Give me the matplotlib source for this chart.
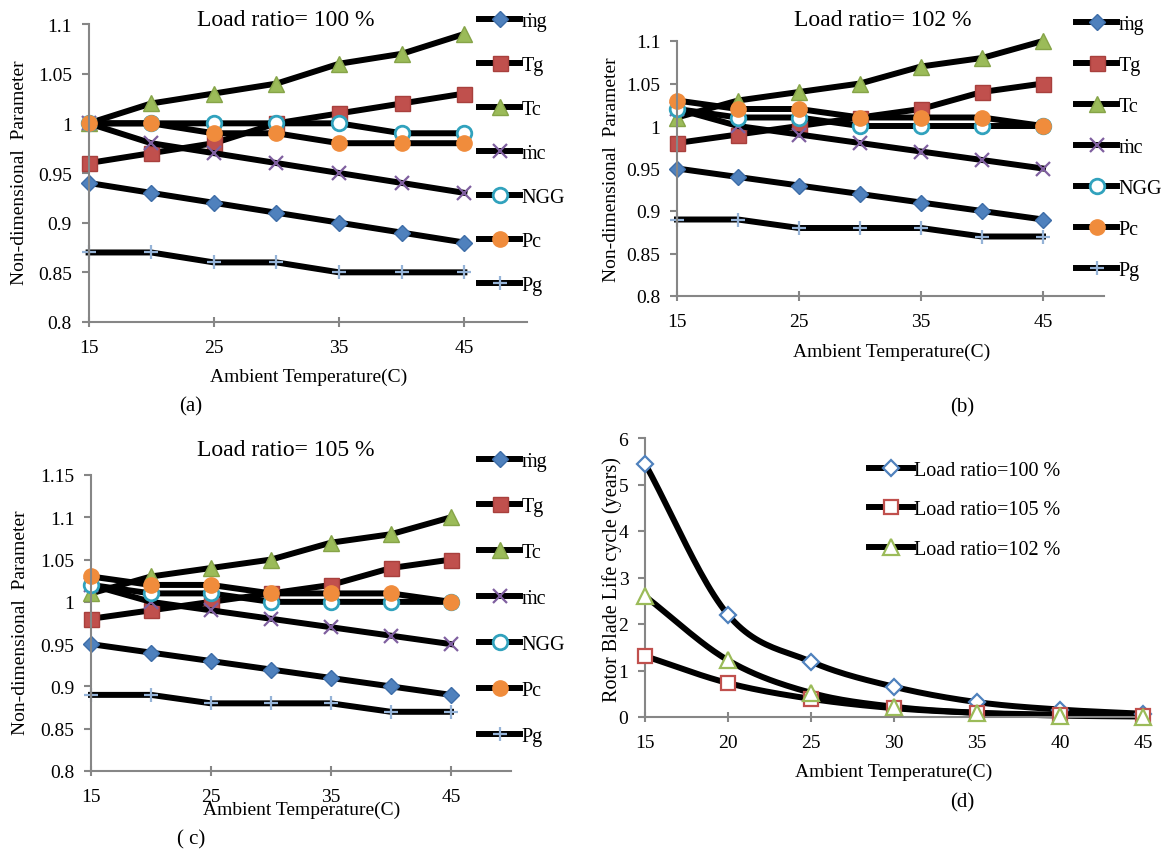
import numpy as np
import matplotlib
matplotlib.use('Agg')
import matplotlib.pyplot as plt

plt.rcParams['font.family'] = ['Liberation Serif', 'DejaVu Serif']

W, H = 1171, 853

# ---------------- data ----------------
temps = [15, 20, 25, 30, 35, 40, 45]
series_names = ['ṁg', 'Tg', 'Tc', 'ṁc', 'NGG', 'Pc', 'Pg']

# (a) load ratio 100 %
a_mg = [0.94, 0.93, 0.92, 0.91, 0.90, 0.89, 0.88]
a_Tg = [0.96, 0.97, 0.98, 1.00, 1.01, 1.02, 1.03]
a_Tc = [1.00, 1.02, 1.03, 1.04, 1.06, 1.07, 1.09]
a_mc = [1.00, 0.98, 0.97, 0.96, 0.95, 0.94, 0.93]
a_NGG = [1.00, 1.00, 1.00, 1.00, 1.00, 0.99, 0.99]
a_Pc = [1.00, 1.00, 0.99, 0.99, 0.98, 0.98, 0.98]
a_Pg = [0.87, 0.87, 0.86, 0.86, 0.85, 0.85, 0.85]

# (b) load ratio 102 %
b_mg = [0.95, 0.94, 0.93, 0.92, 0.91, 0.90, 0.89]
b_Tg = [0.98, 0.99, 1.00, 1.01, 1.02, 1.04, 1.05]
b_Tc = [1.01, 1.03, 1.04, 1.05, 1.07, 1.08, 1.10]
b_mc = [1.02, 1.00, 0.99, 0.98, 0.97, 0.96, 0.95]
b_NGG = [1.02, 1.01, 1.01, 1.00, 1.00, 1.00, 1.00]
b_Pc = [1.03, 1.02, 1.02, 1.01, 1.01, 1.01, 1.00]
b_Pg = [0.89, 0.89, 0.88, 0.88, 0.88, 0.87, 0.87]

# (c) load ratio 105 %
c_mg = [0.95, 0.94, 0.93, 0.92, 0.91, 0.90, 0.89]
c_Tg = [0.98, 0.99, 1.00, 1.01, 1.02, 1.04, 1.05]
c_Tc = [1.01, 1.03, 1.04, 1.05, 1.07, 1.08, 1.10]
c_mc = [1.02, 1.00, 0.99, 0.98, 0.97, 0.96, 0.95]
c_NGG = [1.02, 1.01, 1.01, 1.00, 1.00, 1.00, 1.00]
c_Pc = [1.03, 1.02, 1.02, 1.01, 1.01, 1.01, 1.00]
c_Pg = [0.89, 0.89, 0.88, 0.88, 0.88, 0.87, 0.87]

# (d) rotor blade life cycle (years)
d_labels = ['Load ratio=100 %', 'Load ratio=105 %', 'Load ratio=102 %']
d_100 = [5.45, 2.20, 1.19, 0.65, 0.32, 0.16, 0.07]
d_105 = [1.31, 0.73, 0.39, 0.19, 0.09, 0.05, 0.03]
d_102 = [2.60, 1.22, 0.52, 0.22, 0.09, 0.03, 0.01]

# ---------------- styles ----------------
mstyles = [
    dict(marker='D', markersize=7.8, markerfacecolor='#4F81BD', markeredgecolor='#3D6DA8', markeredgewidth=1),
    dict(marker='s', markersize=10.8, markerfacecolor='#C0504D', markeredgecolor='#A8403D', markeredgewidth=1),
    dict(marker='^', markersize=12, markerfacecolor='#9BBB59', markeredgecolor='#86A448', markeredgewidth=1),
    dict(marker='x', markersize=9.5, markeredgecolor='#7F5F9F', markeredgewidth=1.6),
    dict(marker='o', markersize=10.5, markerfacecolor='white', markeredgecolor='#31A2BD', markeredgewidth=2),
    dict(marker='o', markersize=11, markerfacecolor='#F08C3C', markeredgecolor='#F08C3C', markeredgewidth=1),
    dict(marker='+', markersize=10.5, markeredgecolor='#95B3D7', markeredgewidth=1.6),
]
LW = 4.3
GRAY = '#868686'


def rect(l, r, t, b):
    return [l / W, 1 - b / H, (r - l) / W, (b - t) / H]


def ftext(x, y, s, size, **kw):
    fig.text(x / W, 1 - y / H, s, fontsize=size, ha='center', va='center', **kw)


def style_axes(ax):
    for s in ['top', 'right']:
        ax.spines[s].set_visible(False)
    for s in ['left', 'bottom']:
        ax.spines[s].set_color(GRAY)
        ax.spines[s].set_linewidth(1.5)
    ax.tick_params(axis='y', direction='out', length=5, width=1.5, color=GRAY, pad=7, labelsize=14)
    ax.tick_params(axis='x', direction='inout', length=7, width=1.5, color=GRAY, pad=9, labelsize=14)


def fmt(v):
    return ('%.2f' % v).rstrip('0').rstrip('.')


fig = plt.figure(figsize=(W / 100, H / 100), dpi=100)

panels = [
    dict(rect=rect(88.6, 527, 25, 323), data=[a_mg, a_Tg, a_Tc, a_mc, a_NGG, a_Pc, a_Pg],
         ymax=1.1, title='Load ratio= 100 %', tpos=(286, 20), xl=(309, 377), yl=(20, 173),
         letter='(a)', lpos=(191, 407), leg=(479, 12.5), lsp=1.24),
    dict(rect=rect(677, 1104, 42, 297), data=[b_mg, b_Tg, b_Tc, b_mc, b_NGG, b_Pc, b_Pg],
         ymax=1.1, title='Load ratio= 102 %', tpos=(883, 20), xl=(892, 352), yl=(612, 170),
         letter='(b)', lpos=(962, 408), leg=(1076, 15.5), lsp=1.09),
    dict(rect=rect(91, 511, 476, 772), data=[c_mg, c_Tg, c_Tc, c_mc, c_NGG, c_Pc, c_Pg],
         ymax=1.15, title='Load ratio= 105 %', tpos=(286, 451), xl=(302, 810), yl=(21, 623),
         letter='( c)', lpos=(191, 840), leg=(479, 452.5), lsp=1.33),
]

for p in panels:
    ax = fig.add_axes(p['rect'])
    for vals, name, st in zip(p['data'], series_names, mstyles):
        ax.plot(temps, vals, color='black', lw=LW, label=name, clip_on=False, **st)
    ax.set_xlim(15, 50)
    ax.set_ylim(0.8, p['ymax'])
    yt = np.round(np.arange(0.8, p['ymax'] + 1e-9, 0.05), 2)
    ax.set_yticks(yt)
    ax.set_yticklabels([fmt(v) for v in yt])
    ax.set_xticks([15, 25, 35, 45])
    style_axes(ax)
    lx, ly = p['leg']
    ax.legend(loc='upper left', bbox_to_anchor=(lx / W, 1 - ly / H), bbox_transform=fig.transFigure,
              frameon=False, fontsize=14.5, handlelength=2.05, handletextpad=0.05, labelspacing=p['lsp'],
              borderpad=0, borderaxespad=0, numpoints=1)
    ftext(*p['tpos'], p['title'], 17)
    ftext(*p['xl'], 'Ambient Temperature(C)', 14)
    ftext(*p['yl'], 'Non-dimensional  Parameter', 14, rotation=90)
    ftext(*p['lpos'], p['letter'], 15)


def smooth(x, y, n=24):
    # Catmull-Rom style smoothing (as in spreadsheet smoothed lines)
    x = np.asarray(x, float)
    y = np.asarray(y, float)
    px = np.concatenate([[2 * x[0] - x[1]], x, [2 * x[-1] - x[-2]]])
    py = np.concatenate([[2 * y[0] - y[1]], y, [2 * y[-1] - y[-2]]])
    xs, ys = [], []
    t = np.linspace(0, 1, n, endpoint=False)
    for i in range(1, len(px) - 2):
        for P, out in (((px[i - 1], px[i], px[i + 1], px[i + 2]), xs),
                       ((py[i - 1], py[i], py[i + 1], py[i + 2]), ys)):
            a0, a1, a2, a3 = P
            out.extend(0.5 * ((2 * a1) + (-a0 + a2) * t + (2 * a0 - 5 * a1 + 4 * a2 - a3) * t ** 2
                              + (-a0 + 3 * a1 - 3 * a2 + a3) * t ** 3))
    xs.append(x[-1])
    ys.append(y[-1])
    return np.array(xs), np.array(ys)


axd = fig.add_axes(rect(645, 1143, 439, 718))
d_styles = [
    dict(marker='D', markersize=8, markerfacecolor='white', markeredgecolor='#4F81BD', markeredgewidth=1.6),
    dict(marker='s', markersize=9.5, markerfacecolor='white', markeredgecolor='#C0504D', markeredgewidth=1.6),
    dict(marker='^', markersize=11.5, markerfacecolor='white', markeredgecolor='#9BBB59', markeredgewidth=1.6),
]
handles = []
for vals in [d_100, d_105, d_102]:
    sx, sy = smooth(temps, vals)
    axd.plot(sx, sy, color='black', lw=LW, solid_capstyle='round', clip_on=False)
for vals, st in zip([d_100, d_105, d_102], d_styles):
    axd.plot(temps, vals, linestyle='none', clip_on=False, zorder=3, **st)
    handles.append(plt.Line2D([], [], color='black', lw=LW, **st))
axd.set_xlim(15, 45)
axd.set_ylim(0, 6)
axd.set_xticks(temps)
axd.set_yticks(range(0, 7))
style_axes(axd)
axd.legend(handles, d_labels, loc='upper left', bbox_to_anchor=(869 / W, 1 - 461.5 / H),
           bbox_transform=fig.transFigure, frameon=False, fontsize=14.5, handlelength=2.2,
           handletextpad=0.05, labelspacing=1.02, borderpad=0, borderaxespad=0, numpoints=1)
ftext(894, 772, 'Ambient Temperature(C)', 14)
ftext(612, 580, 'Rotor Blade Life cycle (years)', 14.5, rotation=90)
ftext(962, 803, '(d)', 15)

fig.savefig('out.png', dpi=100)
